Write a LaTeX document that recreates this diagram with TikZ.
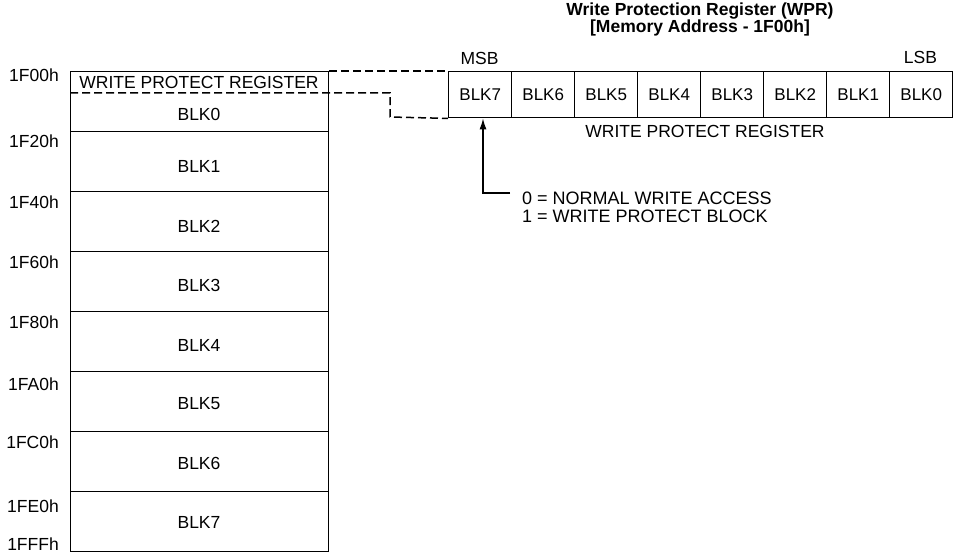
\documentclass[tikz,border=0pt]{standalone}
\usepackage{fontspec}
\setmainfont{Liberation Sans}
\usetikzlibrary{arrows.meta}
\begin{document}
\begin{tikzpicture}[x=1bp,y=-1bp,
  txt/.style={font=\fontsize{17.5bp}{18bp}\selectfont, inner sep=0pt},
  ttl/.style={font=\bfseries\fontsize{17.5bp}{18bp}\selectfont, inner sep=0pt},
  memblk/.style={draw, line width=1.4bp, minimum width=258bp, minimum height=60bp, inner sep=0pt, anchor=north west},
  regcell/.style={draw, line width=1.4bp, minimum width=63bp, minimum height=46bp, inner sep=0pt, anchor=north west, font=\fontsize{17bp}{18bp}\selectfont},
  addr/.style={txt, anchor=east},
  dashline/.style={line width=1.5bp, dash pattern=on 8bp off 4bp},
  arrowline/.style={line width=1.3bp, -{Latex[length=11bp,width=7bp]}}
]
\useasboundingbox (0,0) rectangle (955,555);

% memory map blocks
\foreach \i in {0,...,7} {
  \node[memblk] (m\i) at (70,{71+60*\i}) {};
}
\node[txt] (wprlbl) at (199,82) {WRITE PROTECT REGISTER};
\node[txt] (b0) at (199,114) {BLK0};
\node[txt] (b1) at (199,166) {BLK1};
\node[txt] (b2) at (199,226) {BLK2};
\node[txt] (b3) at (199,285) {BLK3};
\node[txt] (b4) at (199,345) {BLK4};
\node[txt] (b5) at (199,404) {BLK5};
\node[txt] (b6) at (199,463) {BLK6};
\node[txt] (b7) at (199,522) {BLK7};

% addresses
\node[addr] (a0) at (59,75.5) {1F00h};
\node[addr] (a1) at (59,141) {1F20h};
\node[addr] (a2) at (59,202) {1F40h};
\node[addr] (a3) at (59,262.5) {1F60h};
\node[addr] (a4) at (59,322.5) {1F80h};
\node[addr] (a5) at (59,384) {1FA0h};
\node[addr] (a6) at (59,442.5) {1FC0h};
\node[addr] (a7) at (59,506) {1FE0h};
\node[addr] (a8) at (59,544.5) {1FFFh};

% register cells
\node[regcell] (c7) at (448,71) {BLK7};
\node[regcell] (c6) at (511,71) {BLK6};
\node[regcell] (c5) at (574,71) {BLK5};
\node[regcell] (c4) at (637,71) {BLK4};
\node[regcell] (c3) at (700,71) {BLK3};
\node[regcell] (c2) at (763,71) {BLK2};
\node[regcell] (c1) at (826,71) {BLK1};
\node[regcell] (c0) at (889,71) {BLK0};

\node[txt] (msb) at (479.5,58) {MSB};
\node[txt] (lsb) at (920.5,57) {LSB};
\node[ttl] (t1) at (700,11.5) {Write Protection Register (WPR)};
\node[ttl] (t2) at (700,27.5) {[Memory Address - 1F00h]};
\node[txt] (reglbl) at (705,131) {WRITE PROTECT REGISTER};

% dashed links
\coordinate (dj) at (390,93);
\coordinate (dk) at (390,117);
\draw[dashline] (m0.north east) -- (c7.north west);
\draw[dashline] (m0.west |- dj) -- (dj) -- (dk) -- (c7.south west);

% legend
\node[txt, font=\fontsize{18bp}{18bp}\selectfont, anchor=west, align=left] (legend) at (522,207.5)
  {0 = NORMAL WRITE ACCESS\\1 = WRITE PROTECT BLOCK};
\coordinate (lk) at (483,193);
\draw[arrowline] ([xshift=-12bp]legend.west |- lk) -- (lk) -- (lk |- c7.south);
\end{tikzpicture}
\end{document}
